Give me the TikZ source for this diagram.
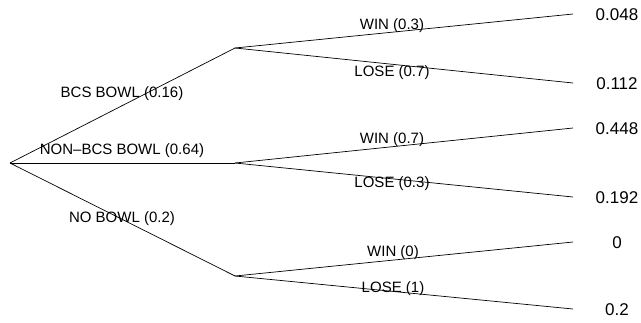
\documentclass[tikz,border=0pt]{standalone}
\usepackage{fontspec}
\setmainfont{Liberation Sans}

\tikzset{
  branch/.style={line width=0.7pt},
  blabel/.style={font=\fontsize{15}{15}\selectfont, inner sep=0pt},
  payoff/.style={font=\fontsize{17}{17}\selectfont, inner sep=0pt},
}

\begin{document}
\begin{tikzpicture}[x=1pt, y=-1pt]
  \useasboundingbox (0,0) rectangle (641,322);
  % decision points
  \coordinate (root) at (10,163);
  \coordinate (bcs) at (235,48);
  \coordinate (nonbcs) at (235,163);
  \coordinate (nobowl) at (235,276);
  % end points of the outcome branches
  \foreach \name/\y in {bcsW/14, bcsL/83, nonbcsW/128, nonbcsL/197, nobowlW/242, nobowlL/309}
    { \coordinate (\name) at (573,\y); }
  % first stage
  \foreach \b in {bcs, nonbcs, nobowl} { \draw[branch] (root) -- (\b); }
  \node[blabel] (lbcs) at (122,94) {BCS BOWL (0.16)};
  \node[blabel] (lnonbcs) at (122,151) {NON--BCS BOWL (0.64)};
  \node[blabel] (lnobowl) at (122,219) {NO BOWL (0.2)};
  % second stage
  \foreach \b in {bcs, nonbcs, nobowl} {
    \draw[branch] (\b) -- (\b W);
    \draw[branch] (\b) -- (\b L);
  }
  \node[blabel] (lbcsW) at (392,26) {WIN (0.3)};
  \node[blabel] (lbcsL) at (392,73) {LOSE (0.7)};
  \node[blabel] (lnonbcsW) at (392,140) {WIN (0.7)};
  \node[blabel] (lnonbcsL) at (392,184) {LOSE (0.3)};
  \node[blabel] (lnobowlW) at (393,253) {WIN (0)};
  \node[blabel] (lnobowlL) at (393,289) {LOSE (1)};
  % joint probabilities
  \node[payoff] (pbcsW) at (617,15) {0.048};
  \node[payoff] (pbcsL) at (617,84) {0.112};
  \node[payoff] (pnonbcsW) at (617,129) {0.448};
  \node[payoff] (pnonbcsL) at (617,198) {0.192};
  \node[payoff] (pnobowlW) at (617,243) {0};
  \node[payoff] (pnobowlL) at (617,310) {0.2};
\end{tikzpicture}
\end{document}
